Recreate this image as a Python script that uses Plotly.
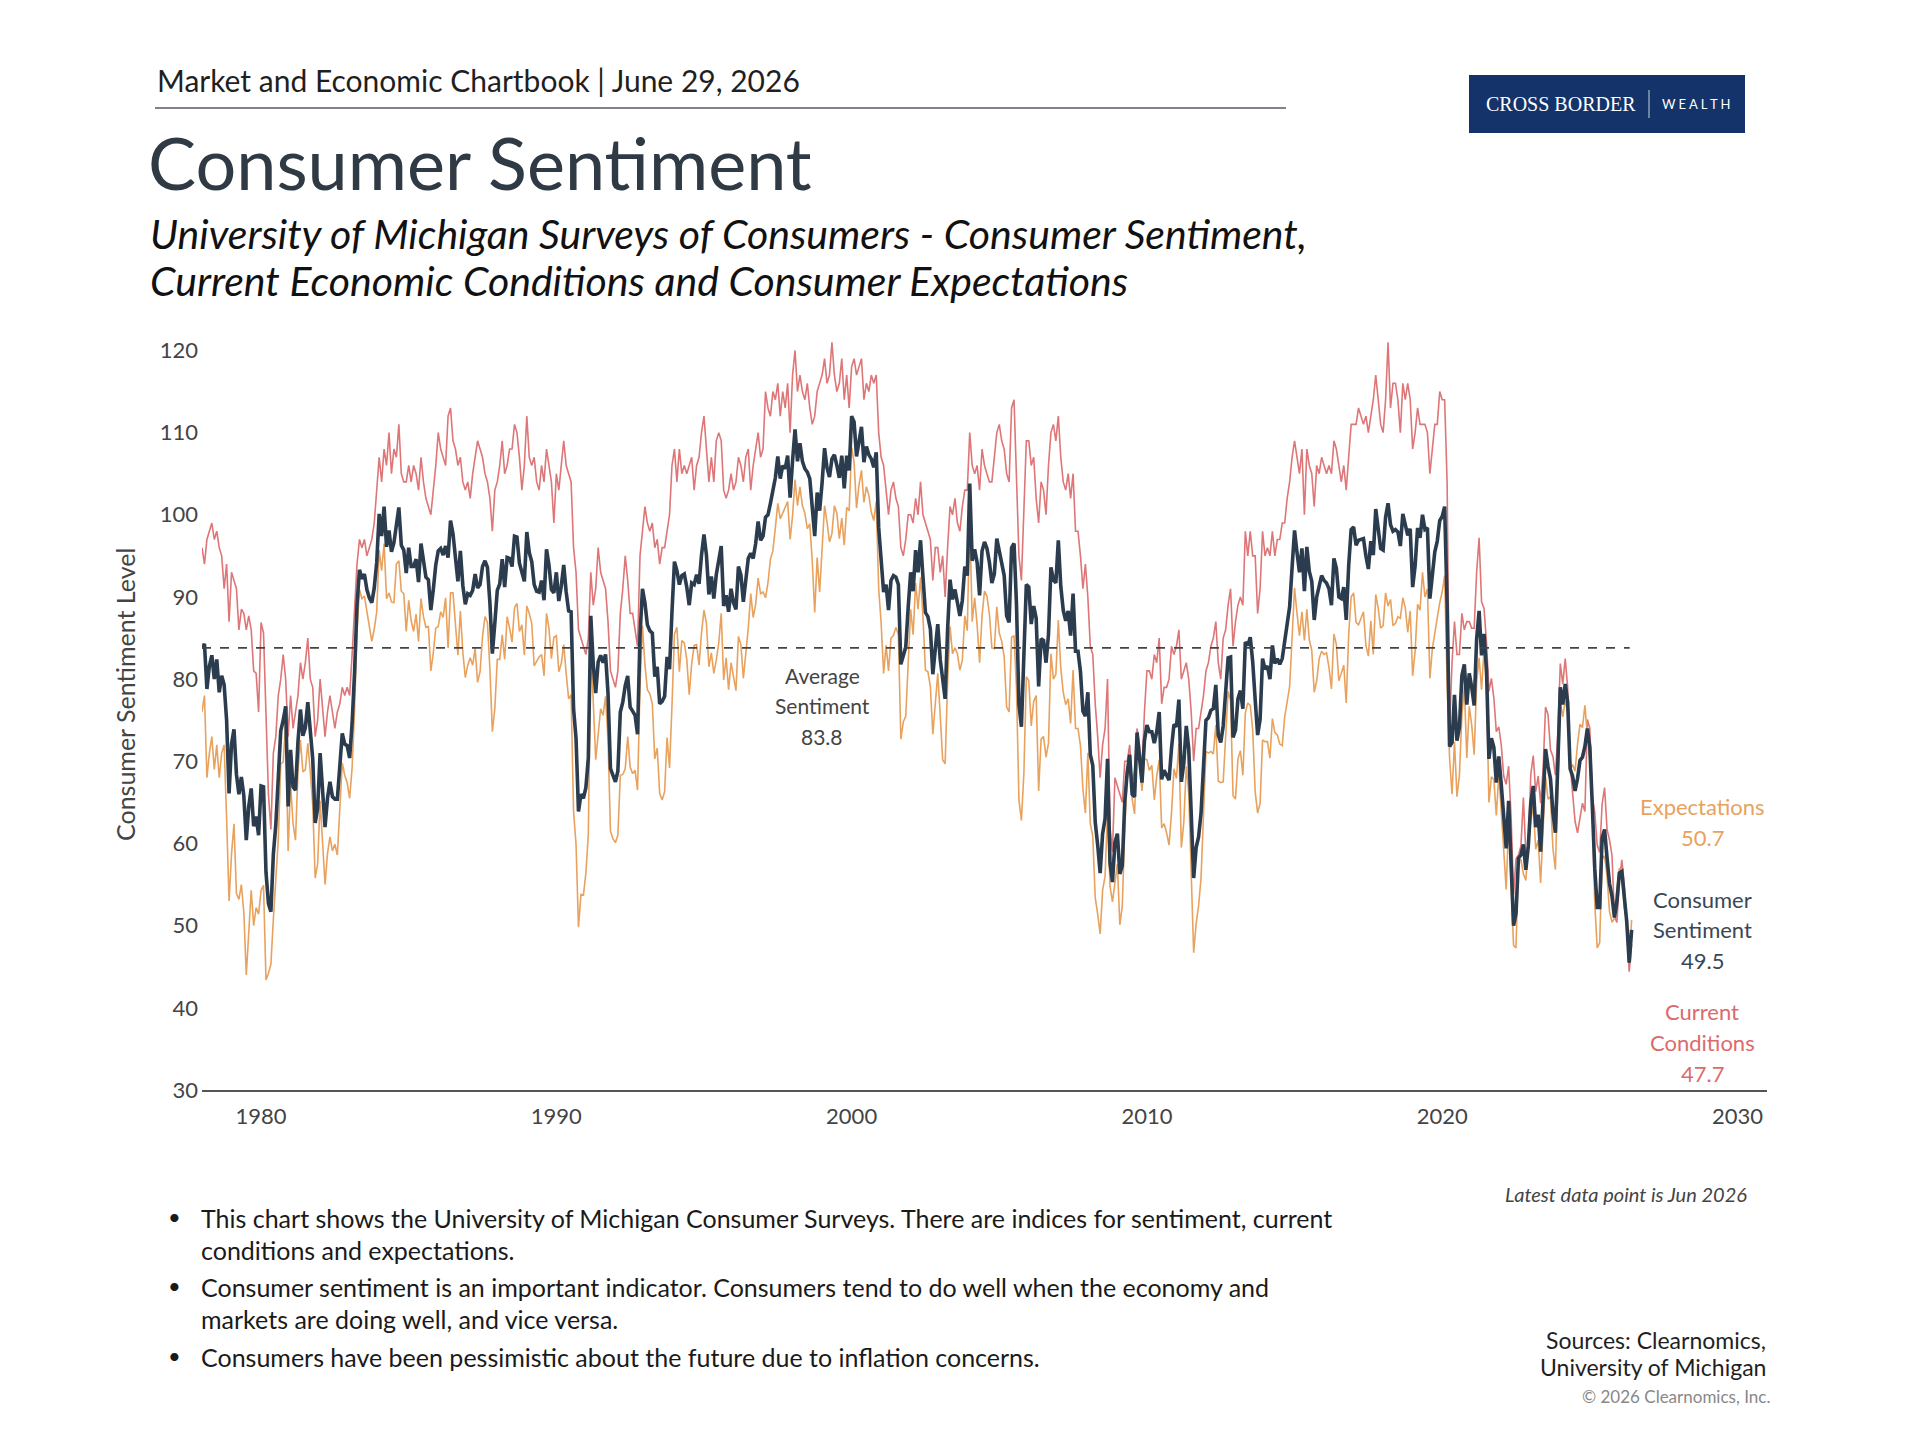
import plotly.graph_objects as go

# ---------------- data (monthly, Jan 1978 - Jun 2026) ----------------
START_YEAR = 1978
sentiment = [
    83.7, 84.3, 78.8, 81.6, 82.9, 80.0, 82.4, 78.4, 80.4, 79.3, 75.0, 66.1,
    72.1, 73.9, 68.4, 66.0, 68.1, 65.8, 60.4, 64.5, 66.7, 62.1, 63.3, 61.0,
    67.0, 66.9, 56.5, 52.7, 51.7, 58.7, 62.3, 67.3, 73.7, 75.0, 76.7, 64.5,
    71.4, 66.9, 66.5, 72.4, 76.3, 73.1, 74.1, 77.2, 73.1, 70.3, 62.5, 64.3,
    71.0, 66.5, 62.0, 65.5, 67.5, 65.7, 65.4, 65.4, 69.3, 73.4, 72.1, 71.9,
    70.4, 74.6, 80.8, 89.1, 93.3, 92.2, 92.8, 90.9, 89.9, 89.3, 91.1, 94.2,
    100.1, 97.4, 101.0, 96.1, 98.1, 95.5, 96.6, 99.1, 100.9, 96.3, 95.7, 92.9,
    96.0, 93.7, 93.7, 94.6, 91.8, 96.5, 94.0, 92.4, 92.1, 88.4, 90.9, 93.9,
    95.6, 95.9, 95.1, 96.2, 94.8, 99.3, 97.7, 94.9, 91.9, 95.6, 91.4, 89.1,
    90.4, 90.2, 90.8, 92.8, 91.1, 91.5, 93.7, 94.4, 93.6, 89.3, 83.1, 86.8,
    90.8, 91.6, 94.6, 91.2, 94.8, 94.7, 93.7, 97.4, 97.3, 94.1, 93.0, 91.9,
    97.9, 95.4, 94.3, 91.5, 90.7, 90.6, 92.0, 89.6, 95.8, 93.9, 90.9, 90.5,
    93.0, 89.5, 91.3, 93.9, 90.6, 88.3, 88.2, 76.4, 72.8, 63.9, 66.0, 65.5,
    66.8, 70.4, 87.7, 81.8, 78.3, 82.1, 82.9, 82.0, 83.0, 78.3, 69.1, 68.2,
    67.5, 68.8, 76.0, 77.2, 79.2, 80.4, 76.6, 76.1, 75.6, 73.3, 85.3, 91.0,
    89.3, 86.6, 85.9, 85.6, 80.3, 81.5, 77.0, 77.3, 77.9, 82.7, 81.2, 88.2,
    94.3, 93.2, 91.5, 92.6, 92.8, 91.2, 89.0, 91.7, 91.5, 92.7, 91.6, 95.1,
    97.6, 95.1, 90.3, 92.5, 89.8, 92.7, 94.4, 96.2, 88.9, 90.2, 88.2, 91.0,
    89.3, 88.5, 93.7, 92.7, 89.4, 92.4, 94.7, 95.3, 94.7, 96.5, 99.2, 96.9,
    97.4, 99.7, 100.0, 101.4, 103.2, 104.5, 107.1, 104.4, 106.0, 105.6, 107.2, 102.1,
    106.6, 110.4, 106.5, 108.7, 106.5, 105.6, 105.2, 104.4, 100.9, 97.4, 102.7, 100.5,
    103.9, 108.1, 105.7, 104.6, 106.8, 107.3, 106.0, 104.5, 107.2, 103.2, 107.2, 105.4,
    112.0, 111.3, 107.1, 109.2, 110.7, 106.4, 108.3, 107.3, 106.8, 105.8, 107.6, 98.4,
    94.7, 90.6, 91.5, 88.4, 92.0, 92.6, 92.4, 91.5, 81.8, 82.7, 83.9, 88.8,
    93.0, 90.7, 95.7, 93.0, 96.9, 92.4, 88.1, 87.6, 86.1, 80.6, 84.2, 86.7,
    82.4, 79.9, 77.6, 86.0, 92.1, 89.7, 90.9, 89.3, 87.7, 89.6, 93.7, 92.6,
    103.8, 94.4, 95.8, 94.2, 90.2, 95.6, 96.7, 95.9, 94.2, 91.7, 92.8, 97.1,
    95.5, 94.1, 92.6, 87.7, 86.9, 96.0, 96.5, 89.1, 76.9, 74.2, 81.6, 91.5,
    91.2, 86.7, 88.9, 87.4, 79.1, 84.9, 84.7, 82.0, 85.4, 93.6, 92.1, 91.7,
    96.9, 91.3, 88.4, 87.1, 88.3, 85.3, 90.4, 83.4, 83.4, 80.9, 76.1, 75.5,
    78.4, 70.8, 69.5, 62.6, 59.8, 56.4, 61.2, 63.0, 70.3, 57.6, 55.3, 60.1,
    61.2, 56.3, 57.3, 65.1, 68.7, 70.8, 66.0, 65.7, 73.5, 70.6, 67.4, 72.5,
    74.4, 73.6, 73.6, 72.2, 73.6, 76.0, 67.8, 68.9, 68.2, 67.7, 71.6, 74.5,
    74.2, 77.5, 67.5, 69.8, 74.3, 71.5, 63.7, 55.8, 59.5, 60.8, 63.7, 69.9,
    75.0, 75.3, 76.2, 76.4, 79.3, 73.2, 72.3, 74.3, 78.3, 82.6, 82.7, 72.9,
    73.8, 77.6, 78.6, 76.4, 84.5, 84.1, 85.1, 82.1, 77.5, 73.2, 75.1, 82.5,
    81.2, 81.6, 80.0, 84.1, 81.9, 82.5, 81.8, 82.5, 84.6, 86.9, 88.8, 93.6,
    98.1, 95.4, 93.0, 95.9, 90.7, 96.1, 93.1, 91.9, 87.2, 90.0, 91.3, 92.6,
    92.0, 91.7, 91.0, 89.0, 94.7, 93.5, 90.0, 89.8, 91.2, 87.2, 93.8, 98.2,
    98.5, 96.3, 96.9, 97.0, 97.1, 95.0, 93.4, 96.8, 95.1, 100.7, 98.5, 95.9,
    95.7, 99.7, 101.4, 98.8, 98.0, 98.2, 97.9, 96.2, 100.1, 98.6, 97.5, 98.3,
    91.2, 93.8, 98.4, 97.2, 100.0, 98.2, 98.4, 89.8, 93.2, 95.5, 96.8, 99.3,
    99.8, 101.0, 89.1, 71.8, 72.3, 78.1, 72.5, 74.1, 80.4, 81.8, 76.9, 80.7,
    79.0, 76.8, 84.9, 88.3, 82.9, 85.5, 81.2, 70.3, 72.8, 71.7, 67.4, 70.6,
    67.2, 62.8, 59.4, 65.2, 58.4, 50.0, 51.5, 58.2, 58.6, 59.9, 56.8, 59.7,
    64.9, 67.0, 62.0, 63.5, 59.0, 64.4, 71.5, 69.4, 67.9, 63.8, 61.3, 69.7,
    79.0, 76.9, 79.4, 77.2, 69.1, 68.2, 66.4, 67.9, 70.1, 70.5, 71.8, 74.0,
    71.7, 64.7, 57.0, 52.2, 52.2, 60.7, 61.7, 58.2, 55.1, 53.6, 51.0, 52.9,
    56.4, 56.6, 53.3, 50.5, 45.5, 49.5,
]

current_conditions = [
    96, 94, 97, 98, 99, 97, 98, 96, 95, 91, 94, 87,
    93, 92, 91, 86, 88.5, 88, 86, 87.7, 86, 81, 80.7, 76,
    86.9, 85.6, 77, 66, 61.7, 71, 73, 78, 80, 83, 80, 73,
    78, 74, 76, 78, 82, 80, 82, 85, 80, 79, 73, 75,
    80, 76, 73, 76, 78, 76, 74, 76, 77, 79, 78, 79,
    78, 83, 88, 94, 97, 96, 97, 95, 96, 97, 99, 103,
    107, 104, 108, 106, 110, 105, 108, 107, 111, 105, 104, 104,
    106, 104, 106, 105, 103, 107, 104, 102, 101, 100, 103, 106,
    110, 108, 107, 106, 112, 113, 109, 108, 106, 107, 104, 103,
    104, 102, 105, 107, 109, 108, 107, 105, 104, 102, 98, 103,
    104, 106, 109, 105, 106, 108, 108, 111, 110, 107, 103, 106,
    112, 107, 106, 107, 104, 103, 106, 104, 108, 106, 104, 99,
    105, 103, 106, 109, 106, 105, 104, 96, 93, 86, 85, 84,
    83, 85, 93, 89, 91, 96, 93, 92, 91, 87, 81, 80,
    79, 81, 88, 91, 95, 92, 88, 88, 86, 84, 95, 98,
    101, 99, 98, 99, 96, 97, 94, 96, 96, 98, 100, 106,
    108, 104, 108, 105, 106, 105, 106, 107, 103, 106, 107, 110,
    112, 108, 104, 107, 104, 109, 110, 109, 103, 102, 103, 105,
    103, 104, 107, 106, 104, 107, 108, 103, 106, 108, 110, 107,
    108, 115, 113, 112, 115, 114, 116, 112, 115, 113, 116, 110,
    117, 120, 115, 117, 115, 114, 116, 113, 111, 112, 115, 116,
    117, 119, 116, 117, 121, 117, 115, 116, 119, 114, 117, 113,
    118, 119, 117, 118, 119, 114, 116, 115, 117, 116, 117, 110,
    107, 106, 103, 100, 103, 104, 102, 101, 96, 95, 97, 100,
    100, 99, 102, 100, 104, 100, 99, 98, 97, 92, 96, 96,
    93, 95, 90, 96, 101, 100, 102, 99, 98, 101, 103, 103,
    110, 106, 105, 106, 103, 108, 106, 105, 104, 104, 107, 110,
    111, 109, 108, 105, 104, 113, 114, 105, 95, 92, 102, 109,
    109, 106, 107, 102, 99, 104, 103, 100, 106, 110, 111, 109,
    112, 107, 104, 103, 105, 102, 105, 98, 98, 95, 91, 94,
    90, 84, 83, 77, 73, 68, 72, 74, 80, 62, 59, 68,
    67, 66, 65, 70, 70, 72, 67, 69, 74, 72, 69, 76,
    81, 81, 80, 83, 82, 85, 77, 79, 79, 80, 84, 83,
    84, 86, 80, 81, 82, 80, 76, 70, 74, 74, 76, 78,
    81, 82, 84, 85, 87, 82, 80, 85, 86, 89, 91, 84,
    87, 89, 90, 89, 98, 95, 98, 95, 95, 88, 91, 98,
    95, 96, 95, 98, 95, 97, 97, 99, 99, 102, 104, 107,
    109, 107, 105, 108, 100, 108, 106, 105, 101, 106, 105, 107,
    106, 105, 106, 105, 109, 108, 106, 104, 106, 103, 107, 111,
    111, 111, 113, 112, 111, 112, 110, 112, 114, 117, 114, 111,
    110, 114, 121, 113, 116, 116, 114, 110, 116, 114, 116, 114,
    108, 110, 113, 111, 111, 111, 110, 105, 108, 111, 111, 115,
    114, 114, 104, 74, 82, 87, 83, 83, 88, 86, 87, 87,
    86.2, 86.2, 93.0, 97.2, 89.4, 88.6, 84.5, 78.5, 80.1, 77.7, 73.6, 74.2,
    72.0, 68.2, 67.2, 69.4, 63.3, 53.8, 58.1, 58.6, 59.7, 65.6, 58.8, 59.4,
    68.4, 70.7, 66.3, 68.2, 64.9, 69.0, 76.6, 75.7, 71.4, 70.6, 68.3, 73.3,
    81.9, 79.4, 82.5, 79.0, 69.6, 65.9, 62.7, 61.3, 63.3, 64.9, 63.9, 75.1,
    74.0, 65.7, 63.8, 59.8, 58.9, 64.8, 66.8, 61.7, 60.4, 58.6, 51.1, 50.4,
    55.5, 58.0, 55.0, 50.0, 44.4, 47.7,
]

expectations = [
    76, 78, 68, 71, 73, 69, 72, 68, 71, 72, 63, 53,
    58.7, 62.4, 53.9, 53.2, 55, 51.6, 44, 49.7, 54.3, 50, 52.2, 51.4,
    54.3, 54.9, 43.4, 44.2, 45.3, 50.8, 55.5, 60.5, 69.7, 69.9, 74.6, 59.1,
    67.2, 62.4, 60.4, 68.8, 72.6, 68.7, 69.0, 72.2, 68.7, 64.7, 55.8, 57.5,
    65.2, 60.4, 55, 58.8, 60.8, 59.1, 59.9, 58.6, 64.4, 69.8, 68.3, 67.4,
    65.5, 69.2, 76.2, 86, 90.9, 89.8, 90.1, 88.3, 86, 84.6, 86.1, 88.2,
    95.7, 93.2, 96.5, 89.8, 90.5, 89.4, 89.3, 94.0, 94.4, 90.7, 90.4, 85.8,
    89.6, 87.1, 85.8, 87.9, 84.6, 89.8, 87.6, 86.3, 86.4, 81, 83.2, 86.2,
    86.4, 88.2, 87.5, 89.9, 83.8, 90.5, 90.5, 86.5, 82.9, 88.3, 83.3, 80.2,
    81.7, 82.6, 81.7, 83.7, 79.6, 80.9, 85.2, 87.6, 86.9, 81.2, 73.6, 76.4,
    82.4, 82.4, 85.4, 82.4, 87.6, 86.2, 84.5, 88.7, 89.2, 85.8, 86.6, 82.9,
    88.9, 88, 86.8, 81.6, 82.2, 82.7, 83, 80.4, 88, 86.2, 82.5, 85.1,
    85.3, 80.9, 81.9, 84.2, 80.7, 77.6, 78.1, 63.9, 59.9, 49.8, 53.8, 53.7,
    56.4, 61.1, 84.3, 77.2, 70.2, 73.2, 76.4, 75.6, 77.9, 72.7, 61.5, 60.6,
    60.1, 61, 68.3, 68.4, 69.1, 73, 69.3, 68.5, 68.9, 66.5, 79.1, 86.5,
    81.8, 78.7, 78.2, 77, 70.3, 71.6, 66.1, 65.3, 66.3, 72.9, 69.2, 76.8,
    85.5, 86.3, 80.9, 84.7, 84.4, 82.4, 78.1, 81.9, 84.1, 84.2, 81.7, 85.6,
    88.4, 86.8, 81.5, 83.2, 80.7, 82.3, 84.4, 88, 79.9, 82.6, 78.7, 82,
    80.5, 78.6, 85.2, 84.2, 80.1, 83.1, 86.2, 90.4, 87.5, 89.1, 92.3, 90.4,
    90.6, 89.9, 91.7, 94.6, 95.6, 98.4, 101.4, 99.5, 100.2, 100.9, 101.6, 97,
    99.9, 104.3, 101.1, 103.4, 101.1, 100.2, 98.3, 98.9, 94.4, 88.1, 94.8, 90.6,
    95.5, 101.1, 99.1, 96.7, 97.7, 101.1, 100.2, 97.1, 99.6, 96.3, 100.9, 100.5,
    108.2, 106.4, 100.8, 103.6, 105.4, 101.5, 103.4, 102.4, 100.3, 99.3, 101.6, 91,
    86.8, 80.7, 84.1, 81, 85, 85.3, 86.3, 85.4, 72.7, 74.8, 75.5, 81.6,
    88.5, 85.4, 91.7, 88.5, 92.4, 87.5, 81.1, 80.9, 79.1, 73.3, 76.6, 80.7,
    75.6, 70.2, 69.7, 79.6, 86.4, 83.1, 83.8, 83.1, 81.1, 82.3, 87.7, 85.9,
    99.8, 87, 89.9, 86.6, 82, 87.7, 90.7, 90.1, 87.9, 83.8, 83.7, 88.8,
    85.6, 84.6, 82.7, 76.6, 76, 85.1, 85.3, 78.9, 65.3, 62.8, 68.5, 80.3,
    79.8, 74.3, 77.3, 78, 66.4, 72.7, 73, 70.5, 72.2, 83.1, 80, 80.6,
    87.2, 81.3, 78.4, 76.9, 77.6, 74.6, 81.1, 74, 74, 71.9, 66.6, 63.7,
    71, 62.4, 60.9, 53.4, 51.4, 49, 54.3, 56, 64.1, 54.8, 52.9, 55,
    57.5, 50.1, 52.4, 62, 67.9, 70, 65.4, 63.6, 73.2, 69.7, 66.4, 70.3,
    70.2, 68.9, 69.5, 65.3, 68.2, 70.2, 61.9, 62.4, 61.3, 59.8, 63.7, 69.1,
    67.9, 72.1, 59.5, 62.6, 69.4, 66.1, 55.8, 46.7, 50.2, 52.4, 55.8, 64.7,
    71.2, 71, 71.2, 70.9, 74.4, 67.6, 67.4, 67.5, 73.4, 78.5, 77.4, 65.8,
    65.4, 70.3, 71.3, 68.3, 75.9, 77.1, 76.8, 73.8, 66.3, 63.7, 64.9, 72.6,
    72.4, 72.4, 70.4, 75.2, 73.5, 73.2, 72.1, 71.9, 75.4, 77.2, 79.1, 85,
    91.1, 88, 85.3, 88.2, 84.7, 88.5, 84.8, 83.5, 78.4, 79.8, 82.5, 83.4,
    83, 83.2, 81.4, 78.8, 85.5, 84.2, 79.8, 80.7, 81.7, 77.1, 85.4, 90,
    90.5, 86.9, 86.6, 87.4, 88.2, 84.1, 82.8, 87.1, 83, 90.3, 88.6, 86.2,
    86.5, 90.5, 88.9, 89.7, 86.5, 86.8, 87.6, 87.4, 89.9, 88.7, 85.7, 88.3,
    80.4, 83.4, 89.1, 88.4, 93, 90, 91, 80.1, 83.7, 85.6, 87.7, 89.3,
    90.6, 92.6, 79.5, 70.4, 66, 72.4, 65.7, 68.3, 75.5, 79.1, 70.4, 76.7,
    74.4, 70.8, 79.6, 82.6, 78.7, 83.6, 79.1, 65.0, 68.1, 67.8, 63.4, 68.3,
    64.0, 59.3, 54.4, 62.6, 55.2, 47.6, 47.3, 58.0, 58.0, 56.3, 55.5, 59.9,
    62.7, 64.7, 59.3, 60.4, 55.2, 61.4, 68.1, 65.4, 65.7, 59.4, 56.8, 67.3,
    77.2, 75.4, 77.4, 76.0, 68.8, 69.6, 68.8, 72.1, 74.5, 74.1, 76.8, 73.2,
    70.3, 64.0, 52.7, 47.3, 47.9, 58.1, 58.5, 56.0, 51.7, 50.4, 50.9, 54.5,
    57.0, 55.7, 52.2, 50.7, 46.1, 50.7,
]

AVERAGE = 83.8
AVERAGE_END = 2026.35
LATEST = {"Expectations": "50.7", "Consumer Sentiment": "49.5", "Current Conditions": "47.7"}
x_ticks = [1980, 1990, 2000, 2010, 2020, 2030]
y_ticks = [30, 40, 50, 60, 70, 80, 90, 100, 110, 120]


def months(series):
    return [START_YEAR + i / 12 for i in range(len(series))]


# ---------------- colours / fonts ----------------
C_SENT = "#2b3c4e"
C_CUR = "#de7678"
C_EXP = "#e8a25e"
FONT = "Lato"

# ---------------- geometry (pixels) ----------------
W, H = 1920, 1440
L, R, T, B = 202, 1767, 334, 1090


def px(x):
    return (x - L) / (R - L)


def py(y):
    return (B - y) / (B - T)


fig = go.Figure()
fig.add_trace(go.Scatter(x=months(current_conditions), y=current_conditions, mode="lines",
                         line=dict(color=C_CUR, width=1.6), name="Current Conditions"))
fig.add_trace(go.Scatter(x=months(expectations), y=expectations, mode="lines",
                         line=dict(color=C_EXP, width=1.6), name="Expectations"))
fig.add_trace(go.Scatter(x=months(sentiment), y=sentiment, mode="lines",
                         line=dict(color=C_SENT, width=3.6), name="Consumer Sentiment"))

shapes = [
    dict(type="line", xref="x", yref="y", x0=START_YEAR, x1=AVERAGE_END, y0=AVERAGE, y1=AVERAGE,
         line=dict(color="#444444", width=1.6, dash="dash")),
    dict(type="line", xref="paper", yref="paper", x0=px(155), x1=px(1286), y0=py(108), y1=py(108),
         line=dict(color="#555b63", width=1.5)),
    dict(type="rect", xref="paper", yref="paper", x0=px(1469), x1=px(1745), y0=py(133), y1=py(75),
         fillcolor="#13336a", line=dict(width=0)),
    dict(type="line", xref="paper", yref="paper", x0=px(1649), x1=px(1649), y0=py(118), y1=py(90),
         line=dict(color="#c8d0dc", width=1)),
]

ann = []


def text(x, y, s, size, color, xanchor="left", italic=False, family=FONT, yanchor="middle"):
    ann.append(dict(xref="paper", yref="paper", x=px(x), y=py(y), text=s, showarrow=False,
                    xanchor=xanchor, yanchor=yanchor,
                    font=dict(family=family, size=size, color=color,
                              style="italic" if italic else "normal")))


text(155, 80, "Market and Economic Chartbook | June 29, 2026", 30, "#1f1f1f")
text(146, 162, "Consumer Sentiment", 72, "#2f3a45")
text(148, 233, "University of Michigan Surveys of Consumers - Consumer Sentiment,", 41, "#111111", italic=True)
text(148, 280, "Current Economic Conditions and Consumer Expectations", 41, "#111111", italic=True)

# logo
text(1561, 104, "CROSS BORDER", 20, "#ffffff", xanchor="center", family="Liberation Serif")
text(1696, 104, "W E A L T H", 13, "#ffffff", xanchor="center")

# axis title
ann.append(dict(xref="paper", yref="paper", x=px(125), y=py(695), text="Consumer Sentiment Level",
                showarrow=False, textangle=-90, xanchor="center", yanchor="middle",
                font=dict(family=FONT, size=25, color="#444444")))

# average label
text(822, 675, "Average", 21, "#444444", xanchor="center")
text(822, 705, "Sentiment", 21, "#444444", xanchor="center")
text(822, 736, f"{AVERAGE}", 21, "#444444", xanchor="center")

# series end labels
text(1702, 806, "Expectations", 22, C_EXP, xanchor="center")
text(1702, 837, LATEST["Expectations"], 22, C_EXP, xanchor="center")
text(1702, 899, "Consumer", 22, "#3a4756", xanchor="center")
text(1702, 929, "Sentiment", 22, "#3a4756", xanchor="center")
text(1702, 960, LATEST["Consumer Sentiment"], 22, "#3a4756", xanchor="center")
text(1702, 1011, "Current", 22, "#dc6a6c", xanchor="center")
text(1702, 1042, "Conditions", 22, "#dc6a6c", xanchor="center")
text(1702, 1073, LATEST["Current Conditions"], 22, "#dc6a6c", xanchor="center")

text(1749, 1194, "Latest data point is Jun 2026", 20, "#444444", xanchor="right", italic=True)

bullets = [
    (1218, "This chart shows the University of Michigan Consumer Surveys. There are indices for sentiment, current", True),
    (1250, "conditions and expectations.", False),
    (1287, "Consumer sentiment is an important indicator. Consumers tend to do well when the economy and", True),
    (1319, "markets are doing well, and vice versa.", False),
    (1357, "Consumers have been pessimistic about the future due to inflation concerns.", True),
]
for y, s, dot in bullets:
    if dot:
        text(166, y - 2, "•", 22, "#1a1a1a")
    text(199, y, s, 25, "#1a1a1a")

text(1768, 1340, "Sources: Clearnomics,", 23, "#1f1f1f", xanchor="right")
text(1768, 1367, "University of Michigan", 23, "#1f1f1f", xanchor="right")
text(1772, 1396, "© 2026 Clearnomics, Inc.", 17, "#888888", xanchor="right")

fig.update_layout(
    width=W, height=H,
    margin=dict(l=L, r=W - R, t=T, b=H - B, pad=0),
    paper_bgcolor="white", plot_bgcolor="white",
    showlegend=False,
    shapes=shapes, annotations=ann,
    font=dict(family=FONT),
    xaxis=dict(range=[1978, 2031], tickvals=x_ticks, ticktext=[str(v) for v in x_ticks],
               showgrid=False, zeroline=False, showline=True, linecolor="#555555", linewidth=1.5,
               ticks="", tickfont=dict(family=FONT, size=22, color="#444444"), ticklabelstandoff=6),
    yaxis=dict(range=[30, 122], tickvals=y_ticks, showgrid=False, zeroline=False, showline=False,
               ticks="", tickfont=dict(family=FONT, size=22, color="#444444"), ticklabelstandoff=3),
)

fig.write_html("out.html")
